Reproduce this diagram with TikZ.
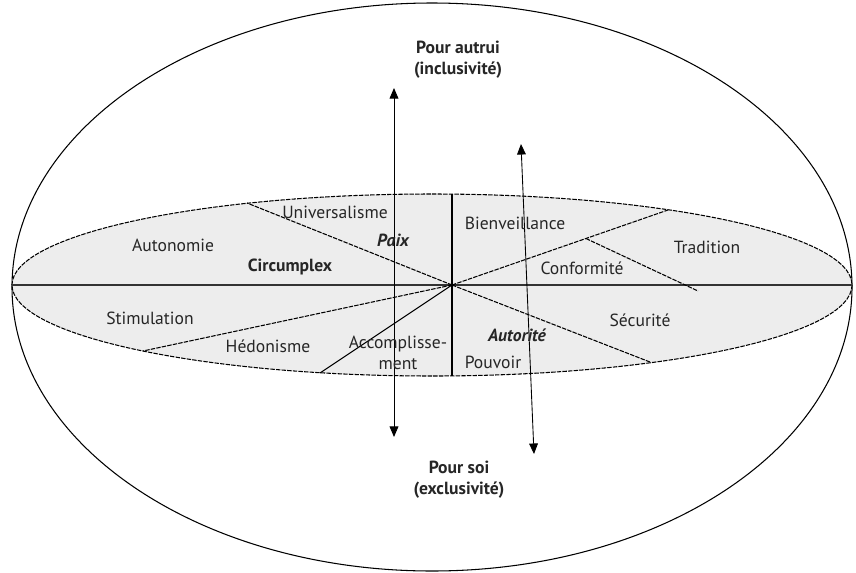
\documentclass[tikz,border=0pt]{standalone}
\usepackage{fontspec}
\setmainfont{PT Sans}
\usetikzlibrary{arrows.meta,calc}

\begin{document}
\begin{tikzpicture}[x=0.02cm,y=-0.02cm,
  lab/.style={font=\fontsize{10}{12}\selectfont,inner sep=1pt,text=black!85},
  seg/.style={line width=0.6pt,dash pattern=on 2.5pt off 0.7pt},
  axe/.style={line width=0.5pt,{Triangle[width=5pt,length=6pt]}-{Triangle[width=5pt,length=6pt]}}]
\useasboundingbox (0,0) rectangle (856,572);

\draw[line width=0.6pt] (432,287) ellipse (420 and 284);
\draw[seg,fill=gray!14] (432,285) ellipse (420 and 91);

\coordinate (c) at (452,285);
\coordinate (l) at (12,285);
\coordinate (r) at (852,285);
\coordinate (u) at (247,203);
\coordinate (s) at (143,351);
\coordinate (a) at (320,373);
\coordinate (b) at (668,210);
\coordinate (t2) at (698,291);
\coordinate (e) at (650,362);
\coordinate (p1) at (452,194);
\coordinate (p2) at (452,376);
\coordinate (t1) at ($(c)!0.62!(b)$);

\draw[line width=0.8pt,black!80] (l) -- (r);
\draw[seg] (c) -- (u);
\draw[seg] (c) -- (s);
\draw[line width=0.6pt] (c) -- (a);
\draw[seg] (c) -- (b);
\draw[seg] (t1) -- (t2);
\draw[seg] (c) -- (e);
\draw[line width=0.6pt] (p1) -- (p2);

% les deux axes
\coordinate (h1) at (394,88);
\coordinate (h2) at (394,437);
\coordinate (k1) at (521,144);
\coordinate (k2) at (534,454);
\draw[axe] (h1) -- (h2);
\draw[axe] (k1) -- (k2);

\node[lab,font=\fontsize{10}{12}\selectfont\bfseries,align=center] (autrui) at (458,60) {Pour autrui\\(inclusivité)};
\node[lab,font=\fontsize{10}{12}\selectfont\bfseries,align=center] (soi) at (459,480) {Pour soi\\(exclusivité)};

\node[lab] (univ) at (335,212) {Universalisme};
\node[lab,font=\fontsize{10}{12}\selectfont\bfseries\itshape] (paix) at (393,240) {Paix};
\node[lab] (auto) at (173,245) {Autonomie};
\node[lab,font=\fontsize{10}{12}\selectfont\bfseries] (circ) at (290,267) {Circumplex};
\node[lab] (stim) at (150,318) {Stimulation};
\node[lab] (hedo) at (268,346) {Hédonisme};
\node[lab,align=center] (acc) at (398,353) {Accomplisse-\\ment};
\node[lab] (bien) at (515,223) {Bienveillance};
\node[lab] (trad) at (707,247) {Tradition};
\node[lab] (conf) at (582,268) {Conformité};
\node[lab] (secu) at (640,320) {Sécurité};
\node[lab,font=\fontsize{10}{12}\selectfont\bfseries\itshape] (autor) at (517,335) {Autorité};
\node[lab] (pouv) at (493,362) {Pouvoir};
\end{tikzpicture}
\end{document}
